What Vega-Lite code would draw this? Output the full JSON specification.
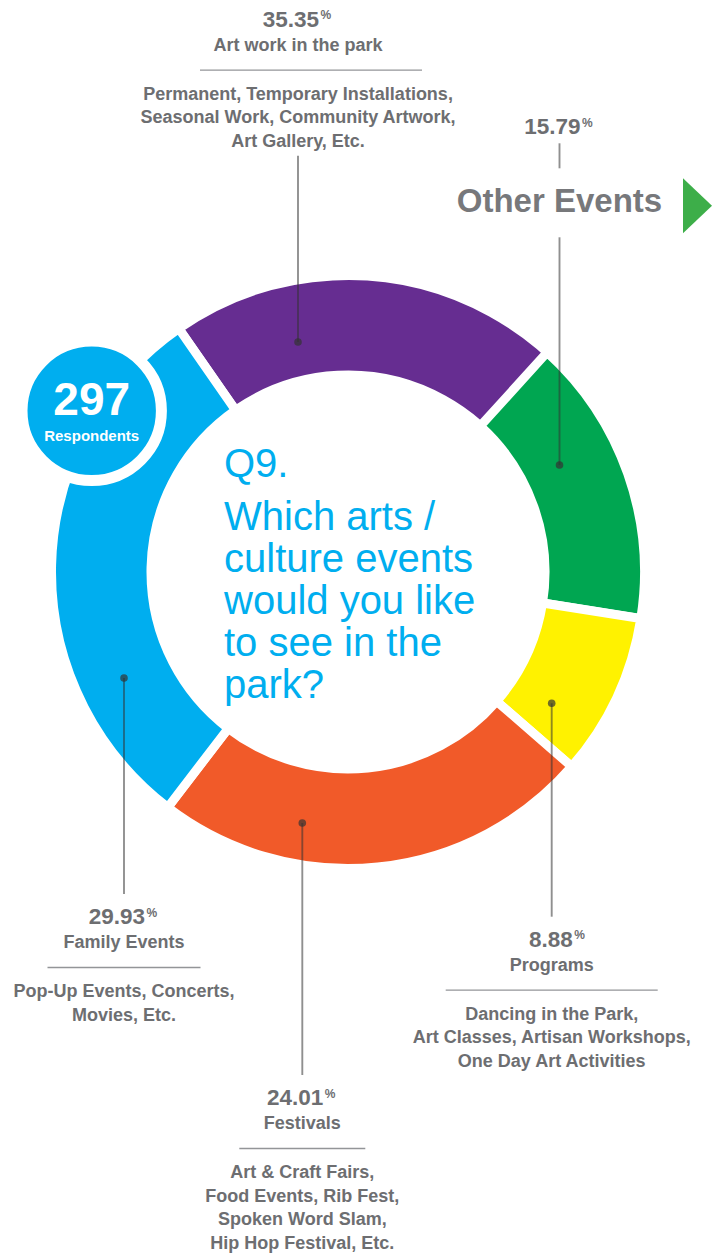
{
  "$schema": "https://vega.github.io/schema/vega-lite/v6.json",
  "width": 696,
  "height": 1144,
  "autosize": "none",
  "padding": {"left": 0, "top": 0, "right": 17, "bottom": 110},
  "background": "white",
  "config": {"view": {"stroke": null}, "font": "Liberation Sans"},
  "datasets": {
    "answers": [
      {"category": "Art work in the park", "pct": 35.35, "rank": 5, "desc": "Permanent, Temporary Installations,\nSeasonal Work, Community Artwork,\nArt Gallery, Etc."},
      {"category": "Other Events", "pct": 15.79, "rank": 1, "desc": ""},
      {"category": "Programs", "pct": 8.88, "rank": 2, "desc": "Dancing in the Park,\nArt Classes, Artisan Workshops,\nOne Day Art Activities"},
      {"category": "Festivals", "pct": 24.01, "rank": 3, "desc": "Art & Craft Fairs,\nFood Events, Rib Fest,\nSpoken Word Slam,\nHip Hop Festival, Etc."},
      {"category": "Family Events", "pct": 29.93, "rank": 4, "desc": "Pop-Up Events, Concerts,\nMovies, Etc."}
    ],
    "badge": [{"respondents": 297, "label": "Respondents"}],
    "question": [{"number": "Q9.", "text": "Which arts /\nculture events\nwould you like\nto see in the\npark?"}]
  },
  "data": {"name": "answers"},
  "layer": [
    {
      "mark": {"type": "arc", "radius": 296.5, "radius2": 197, "stroke": "white", "strokeWidth": 9},
      "encoding": {
        "theta": {"field": "pct", "type": "quantitative", "stack": true, "scale": {"domain": [0, 100], "range": [0.73653, 7.01972]}},
        "order": {"field": "rank", "type": "quantitative"},
        "color": {"field": "category", "type": "nominal", "legend": null,
          "scale": {"domain": ["Art work in the park", "Other Events", "Programs", "Festivals", "Family Events"],
                    "range": ["#662d91", "#00a651", "#fff200", "#f15a29", "#00aeef"]}}
      }
    },
    {
      "transform": [{"filter": {"field": "pct", "oneOf": [8.88, 24.01, 29.93]}}],
      "mark": {"type": "rule", "color": "#333333", "opacity": 0.55, "strokeWidth": 1.9, "y2Offset": -30},
      "encoding": {
        "x": {"field": "pct", "type": "quantitative", "axis": null, "scale": {"domain": [8.88, 15.79, 24.01, 29.93, 35.35], "range": [551.7, 559.5, 302.3, 124, 298], "nice": false, "zero": false}},
        "y": {"field": "rank", "type": "quantitative", "axis": null, "scale": {"domain": [1, 2, 3, 4, 5, 8.88, 15.79, 24.01, 29.93, 35.35], "range": [465, 703.3, 823, 678, 342, 946.7, 134.3, 1105, 924, 26.7], "nice": false, "zero": false}},
        "y2": {"field": "pct"}
      }
    },
    {
      "transform": [{"filter": {"field": "category", "equal": "Art work in the park"}}],
      "mark": {"type": "rule", "color": "#333333", "opacity": 0.55, "strokeWidth": 1.9, "y2Offset": 129},
      "encoding": {
        "x": {"field": "pct", "type": "quantitative", "axis": null, "scale": {"domain": [8.88, 15.79, 24.01, 29.93, 35.35], "range": [551.7, 559.5, 302.3, 124, 298], "nice": false, "zero": false}},
        "y": {"field": "rank", "type": "quantitative", "axis": null, "scale": {"domain": [1, 2, 3, 4, 5, 8.88, 15.79, 24.01, 29.93, 35.35], "range": [465, 703.3, 823, 678, 342, 946.7, 134.3, 1105, 924, 26.7], "nice": false, "zero": false}},
        "y2": {"field": "pct"}
      }
    },
    {
      "transform": [{"filter": {"field": "category", "equal": "Other Events"}}],
      "mark": {"type": "rule", "color": "#333333", "opacity": 0.55, "strokeWidth": 1.9, "y2Offset": 103},
      "encoding": {
        "x": {"field": "pct", "type": "quantitative", "axis": null, "scale": {"domain": [8.88, 15.79, 24.01, 29.93, 35.35], "range": [551.7, 559.5, 302.3, 124, 298], "nice": false, "zero": false}},
        "y": {"field": "rank", "type": "quantitative", "axis": null, "scale": {"domain": [1, 2, 3, 4, 5, 8.88, 15.79, 24.01, 29.93, 35.35], "range": [465, 703.3, 823, 678, 342, 946.7, 134.3, 1105, 924, 26.7], "nice": false, "zero": false}},
        "y2": {"field": "pct"}
      }
    },
    {
      "transform": [{"filter": {"field": "category", "equal": "Other Events"}}],
      "mark": {"type": "rule", "color": "#333333", "opacity": 0.55, "strokeWidth": 1.9, "yOffset": 9, "y2Offset": 34},
      "encoding": {
        "x": {"field": "pct", "type": "quantitative", "axis": null, "scale": {"domain": [8.88, 15.79, 24.01, 29.93, 35.35], "range": [551.7, 559.5, 302.3, 124, 298], "nice": false, "zero": false}},
        "y": {"field": "pct", "type": "quantitative", "axis": null, "scale": {"domain": [1, 2, 3, 4, 5, 8.88, 15.79, 24.01, 29.93, 35.35], "range": [465, 703.3, 823, 678, 342, 946.7, 134.3, 1105, 924, 26.7], "nice": false, "zero": false}},
        "y2": {"field": "pct"}
      }
    },
    {
      "mark": {"type": "point", "filled": true, "size": 58, "color": "#333333", "opacity": 0.7},
      "encoding": {
        "x": {"field": "pct", "type": "quantitative", "axis": null, "scale": {"domain": [8.88, 15.79, 24.01, 29.93, 35.35], "range": [551.7, 559.5, 302.3, 124, 298], "nice": false, "zero": false}},
        "y": {"field": "rank", "type": "quantitative", "axis": null, "scale": {"domain": [1, 2, 3, 4, 5, 8.88, 15.79, 24.01, 29.93, 35.35], "range": [465, 703.3, 823, 678, 342, 946.7, 134.3, 1105, 924, 26.7], "nice": false, "zero": false}}
      }
    },
    {
      "mark": {"type": "text", "align": "right", "baseline": "alphabetic", "dx": 21, "fontSize": 22.5, "fontWeight": "bold", "color": "#6d6e71"},
      "encoding": {
        "x": {"field": "pct", "type": "quantitative", "axis": null, "scale": {"domain": [8.88, 15.79, 24.01, 29.93, 35.35], "range": [551.7, 559.5, 302.3, 124, 298], "nice": false, "zero": false}},
        "y": {"field": "pct", "type": "quantitative", "axis": null, "scale": {"domain": [1, 2, 3, 4, 5, 8.88, 15.79, 24.01, 29.93, 35.35], "range": [465, 703.3, 823, 678, 342, 946.7, 134.3, 1105, 924, 26.7], "nice": false, "zero": false}},
        "text": {"field": "pct", "type": "quantitative", "format": ".2f"}
      }
    },
    {
      "mark": {"type": "text", "align": "left", "baseline": "alphabetic", "dx": 22.5, "dy": -7.5, "fontSize": 12, "fontWeight": "bold", "color": "#6d6e71", "text": "%"},
      "encoding": {
        "x": {"field": "pct", "type": "quantitative", "axis": null, "scale": {"domain": [8.88, 15.79, 24.01, 29.93, 35.35], "range": [551.7, 559.5, 302.3, 124, 298], "nice": false, "zero": false}},
        "y": {"field": "pct", "type": "quantitative", "axis": null, "scale": {"domain": [1, 2, 3, 4, 5, 8.88, 15.79, 24.01, 29.93, 35.35], "range": [465, 703.3, 823, 678, 342, 946.7, 134.3, 1105, 924, 26.7], "nice": false, "zero": false}}
      }
    },
    {
      "transform": [{"filter": {"not": {"field": "category", "equal": "Other Events"}}}],
      "mark": {"type": "text", "align": "center", "baseline": "alphabetic", "dy": 24, "fontSize": 18, "fontWeight": "bold", "color": "#6d6e71"},
      "encoding": {
        "x": {"field": "pct", "type": "quantitative", "axis": null, "scale": {"domain": [8.88, 15.79, 24.01, 29.93, 35.35], "range": [551.7, 559.5, 302.3, 124, 298], "nice": false, "zero": false}},
        "y": {"field": "pct", "type": "quantitative", "axis": null, "scale": {"domain": [1, 2, 3, 4, 5, 8.88, 15.79, 24.01, 29.93, 35.35], "range": [465, 703.3, 823, 678, 342, 946.7, 134.3, 1105, 924, 26.7], "nice": false, "zero": false}},
        "text": {"field": "category", "type": "nominal"}
      }
    },
    {
      "transform": [{"filter": {"field": "category", "equal": "Other Events"}}],
      "mark": {"type": "text", "align": "center", "baseline": "alphabetic", "dy": 77.5, "fontSize": 33, "fontWeight": "bold", "color": "#77787b"},
      "encoding": {
        "x": {"field": "pct", "type": "quantitative", "axis": null, "scale": {"domain": [8.88, 15.79, 24.01, 29.93, 35.35], "range": [551.7, 559.5, 302.3, 124, 298], "nice": false, "zero": false}},
        "y": {"field": "pct", "type": "quantitative", "axis": null, "scale": {"domain": [1, 2, 3, 4, 5, 8.88, 15.79, 24.01, 29.93, 35.35], "range": [465, 703.3, 823, 678, 342, 946.7, 134.3, 1105, 924, 26.7], "nice": false, "zero": false}},
        "text": {"field": "category", "type": "nominal"}
      }
    },
    {
      "transform": [{"filter": {"field": "category", "equal": "Other Events"}}],
      "mark": {"type": "point", "filled": true, "shape": "M-0.527,-1L0.527,0L-0.527,1Z", "size": 3025, "color": "#3dae49", "opacity": 1, "xOffset": 138, "yOffset": 71.5},
      "encoding": {
        "x": {"field": "pct", "type": "quantitative", "axis": null, "scale": {"domain": [8.88, 15.79, 24.01, 29.93, 35.35], "range": [551.7, 559.5, 302.3, 124, 298], "nice": false, "zero": false}},
        "y": {"field": "pct", "type": "quantitative", "axis": null, "scale": {"domain": [1, 2, 3, 4, 5, 8.88, 15.79, 24.01, 29.93, 35.35], "range": [465, 703.3, 823, 678, 342, 946.7, 134.3, 1105, 924, 26.7], "nice": false, "zero": false}}
      }
    },
    {
      "transform": [{"filter": {"field": "pct", "oneOf": [8.88, 24.01, 29.93]}}],
      "mark": {"type": "tick", "orient": "horizontal", "thickness": 1.3, "color": "#939598", "opacity": 1, "yOffset": 43.5},
      "encoding": {
        "x": {"field": "pct", "type": "quantitative", "axis": null, "scale": {"domain": [8.88, 15.79, 24.01, 29.93, 35.35], "range": [551.7, 559.5, 302.3, 124, 298], "nice": false, "zero": false}},
        "y": {"field": "pct", "type": "quantitative", "axis": null, "scale": {"domain": [1, 2, 3, 4, 5, 8.88, 15.79, 24.01, 29.93, 35.35], "range": [465, 703.3, 823, 678, 342, 946.7, 134.3, 1105, 924, 26.7], "nice": false, "zero": false}},
        "size": {"field": "pct", "type": "quantitative", "legend": null, "scale": {"domain": [8.88, 24.01, 29.93, 35.35], "range": [212, 126, 153, 222], "nice": false, "zero": false}}
      }
    },
    {
      "transform": [{"filter": {"field": "category", "equal": "Art work in the park"}}],
      "mark": {"type": "tick", "orient": "horizontal", "thickness": 1.3, "color": "#939598", "opacity": 1, "yOffset": 43.5, "xOffset": 13},
      "encoding": {
        "x": {"field": "pct", "type": "quantitative", "axis": null, "scale": {"domain": [8.88, 15.79, 24.01, 29.93, 35.35], "range": [551.7, 559.5, 302.3, 124, 298], "nice": false, "zero": false}},
        "y": {"field": "pct", "type": "quantitative", "axis": null, "scale": {"domain": [1, 2, 3, 4, 5, 8.88, 15.79, 24.01, 29.93, 35.35], "range": [465, 703.3, 823, 678, 342, 946.7, 134.3, 1105, 924, 26.7], "nice": false, "zero": false}},
        "size": {"field": "pct", "type": "quantitative", "legend": null, "scale": {"domain": [8.88, 24.01, 29.93, 35.35], "range": [212, 126, 153, 222], "nice": false, "zero": false}}
      }
    },
    {
      "transform": [{"filter": {"not": {"field": "category", "equal": "Other Events"}}}],
      "mark": {"type": "text", "align": "center", "baseline": "alphabetic", "dy": 73, "lineBreak": "\n", "lineHeight": 23.7, "fontSize": 18, "fontWeight": "bold", "color": "#6d6e71"},
      "encoding": {
        "x": {"field": "pct", "type": "quantitative", "axis": null, "scale": {"domain": [8.88, 15.79, 24.01, 29.93, 35.35], "range": [551.7, 559.5, 302.3, 124, 298], "nice": false, "zero": false}},
        "y": {"field": "pct", "type": "quantitative", "axis": null, "scale": {"domain": [1, 2, 3, 4, 5, 8.88, 15.79, 24.01, 29.93, 35.35], "range": [465, 703.3, 823, 678, 342, 946.7, 134.3, 1105, 924, 26.7], "nice": false, "zero": false}},
        "text": {"field": "desc", "type": "nominal"}
      }
    },
    {
      "data": {"name": "badge"},
      "mark": {"type": "point", "filled": true, "size": 19432, "color": "#00aeef", "opacity": 1, "stroke": "white", "strokeWidth": 11, "strokeOpacity": 1, "xOffset": -256.3, "yOffset": -161.2},
      "encoding": {}
    },
    {
      "data": {"name": "badge"},
      "mark": {"type": "text", "align": "center", "baseline": "alphabetic", "dx": -256.3, "dy": -157, "fontSize": 46, "fontWeight": "bold", "color": "white"},
      "encoding": {"text": {"field": "respondents", "type": "quantitative"}}
    },
    {
      "data": {"name": "badge"},
      "mark": {"type": "text", "align": "center", "baseline": "alphabetic", "dx": -256.3, "dy": -131, "fontSize": 15, "fontWeight": "bold", "color": "white"},
      "encoding": {"text": {"field": "label", "type": "nominal"}}
    },
    {
      "data": {"name": "question"},
      "mark": {"type": "text", "align": "left", "baseline": "alphabetic", "dx": -124, "dy": -95, "fontSize": 40, "color": "#00aeef"},
      "encoding": {"text": {"field": "number", "type": "nominal"}}
    },
    {
      "data": {"name": "question"},
      "mark": {"type": "text", "align": "left", "baseline": "alphabetic", "dx": -124, "dy": -42, "lineBreak": "\n", "lineHeight": 42, "fontSize": 40, "color": "#00aeef"},
      "encoding": {"text": {"field": "text", "type": "nominal"}}
    }
  ]
}
